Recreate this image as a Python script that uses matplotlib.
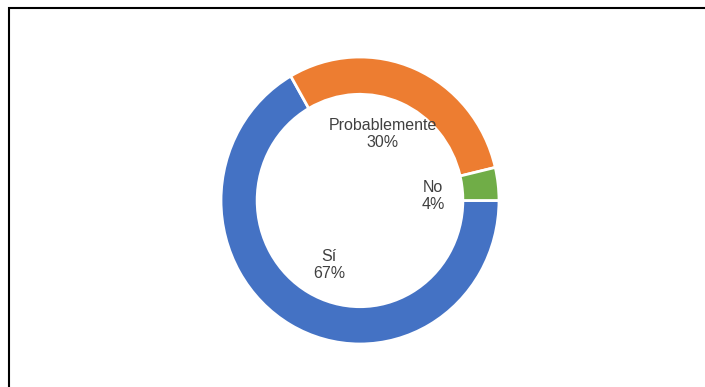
import matplotlib.pyplot as plt
from matplotlib.patches import Rectangle

# survey answers (share of responses, %)
categories = ["Sí", "Probablemente", "No"]
values = [66.7, 29.6, 3.7]
pct_labels = ["67%", "30%", "4%"]
colors = ["#4472C4", "#ED7D31", "#70AD47"]

# label anchor points inside the ring (axes data units, radius = 1)
label_pos = [(-0.223, -0.449), (0.165, 0.463), (0.525, 0.031)]

plt.rcParams['font.family'] = ['Liberation Sans', 'DejaVu Sans']

W, H = 705, 387
fig = plt.figure(figsize=(W / 100, H / 100), dpi=100)

# chart area border (Excel style)
fig.patches.append(Rectangle((9 / W, -0.05), 1.1, 1 - 8 / H + 0.05,
                             transform=fig.transFigure, fill=False,
                             edgecolor="#000000", linewidth=1.5))

# ring is slightly taller than wide in the original export
cx, cy, rx, ry = 360, 200.5, 139, 143.5
ax = fig.add_axes([(cx - rx) / W, (H - cy - ry) / H, 2 * rx / W, 2 * ry / H])

ax.pie(values, colors=colors, startangle=0, counterclock=False, radius=1,
       wedgeprops=dict(width=0.26, edgecolor="white", linewidth=2))
ax.set_xlim(-1, 1)
ax.set_ylim(-1, 1)
ax.set_aspect('auto')
ax.axis('off')

for name, pct, (x, y) in zip(categories, pct_labels, label_pos):
    ax.text(x, y, f"{name}\n{pct}", ha='center', va='center',
            fontsize=11.5, color="#404040", linespacing=1.2)

plt.savefig("out.png", dpi=100)
